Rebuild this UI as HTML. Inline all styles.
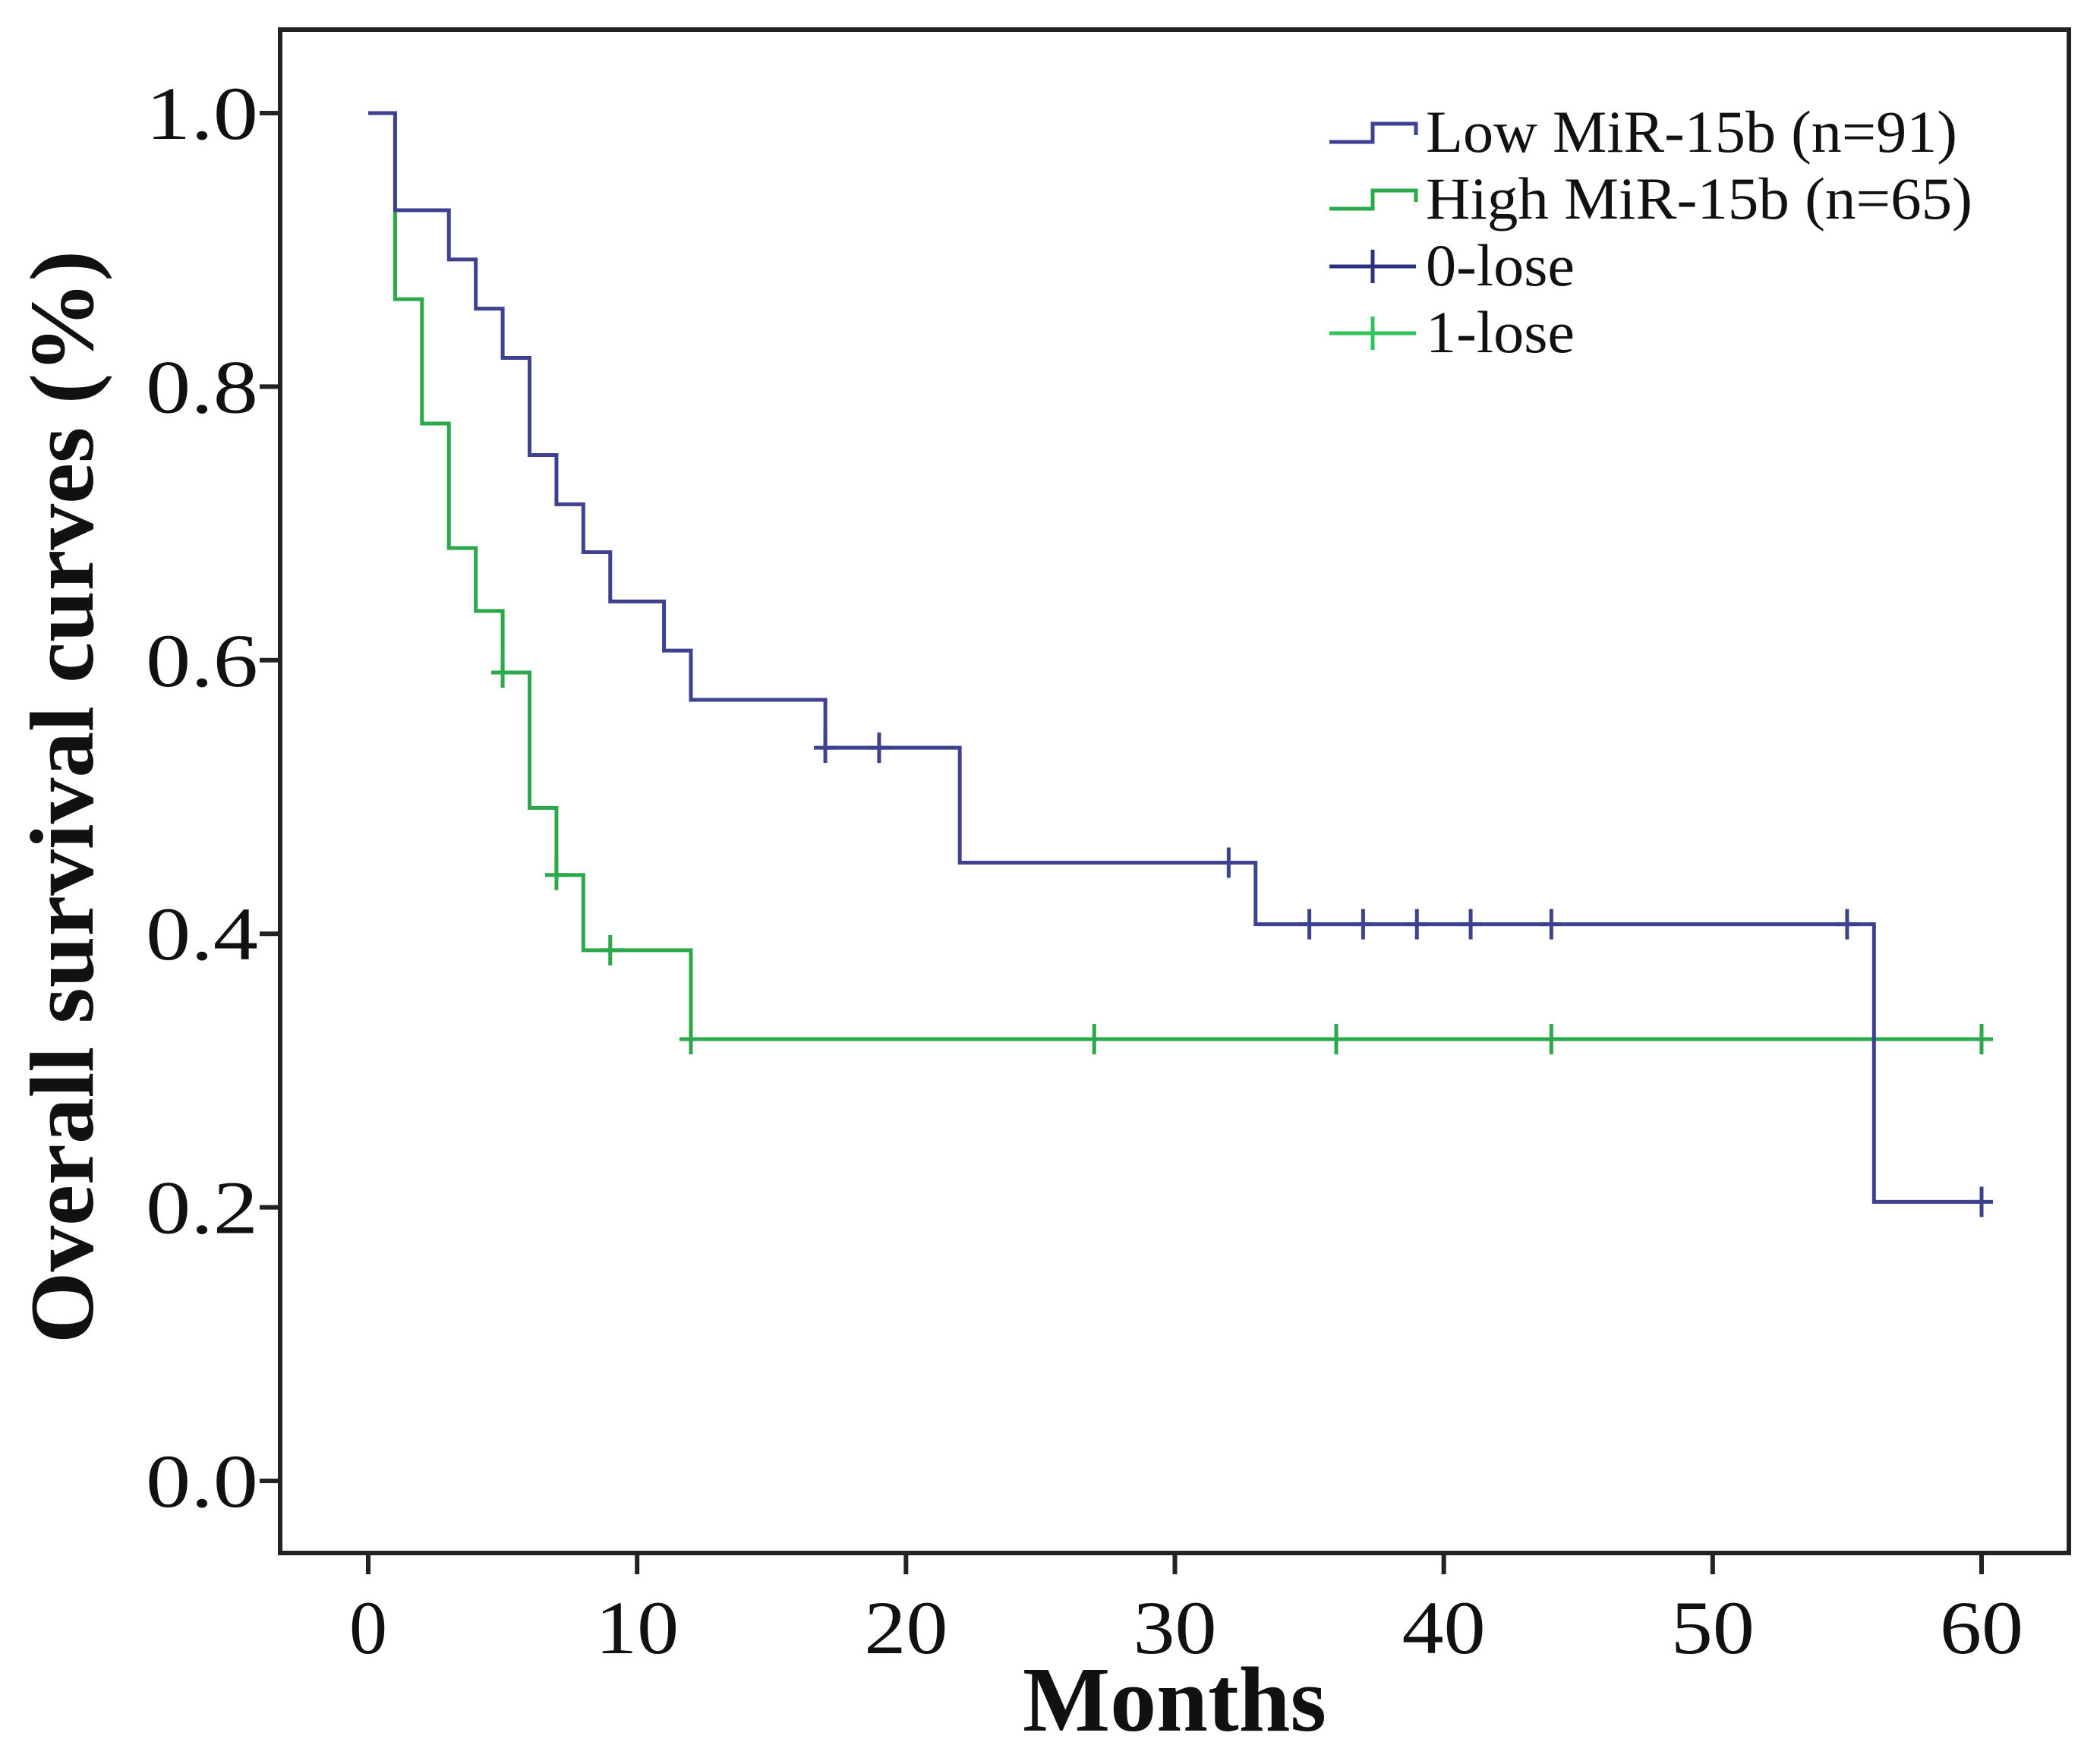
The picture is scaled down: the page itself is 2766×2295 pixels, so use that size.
<!DOCTYPE html>
<html><head><meta charset="utf-8">
<style>
html,body{margin:0;padding:0;background:#fff;}
svg{display:block;}
text{font-family:"Liberation Serif",serif;fill:#111;}
</style></head>
<body>
<svg id="chart" width="2766" height="2295" viewBox="0 0 2766 2295" xmlns="http://www.w3.org/2000/svg">
<rect x="369" y="39" width="2356" height="2007" fill="#fff" stroke="#222" stroke-width="6"/>
<g id="axes"></g>
<g id="series"></g>
<text transform="translate(122,1050) rotate(-90)" text-anchor="middle" font-size="120" font-weight="bold" textLength="1440" lengthAdjust="spacingAndGlyphs">Overall survival curves (%)</text>
<text x="1547" y="2280" text-anchor="middle" font-size="122" font-weight="bold" textLength="400" lengthAdjust="spacingAndGlyphs">Months</text>
<g>
<path d="M1751 187 H1808 V163 H1865 V178" fill="none" stroke="#3d418f" stroke-width="5"/>
<text x="1878" y="200" font-size="78" textLength="700" lengthAdjust="spacingAndGlyphs">Low MiR-15b (n=91)</text>
<path d="M1751 275 H1808 V251 H1865 V266" fill="none" stroke="#2aa84a" stroke-width="5"/>
<text x="1878" y="288" font-size="78" textLength="720" lengthAdjust="spacingAndGlyphs">High MiR-15b (n=65)</text>
<path d="M1751 351 H1865 M1808 329 V373" stroke="#2c3080" stroke-width="5"/>
<text x="1878" y="376" font-size="78" textLength="196" lengthAdjust="spacingAndGlyphs">0-lose</text>
<path d="M1751 439 H1865 M1808 417 V461" stroke="#2ec45a" stroke-width="5"/>
<text x="1878" y="464" font-size="78" textLength="196" lengthAdjust="spacingAndGlyphs">1-lose</text>
</g>
</svg>
<script>
const xTicks = [0,10,20,30,40,50,60];
const yTicks = [0.0,0.2,0.4,0.6,0.8,1.0];
const lowTimes = [0,1,3,4,5,6,7,8,9,11,12,17,22,33,56,60];
const lowSurv = [1.0,0.929,0.893,0.857,0.821,0.75,0.714,0.679,0.643,0.607,0.571,0.536,0.452,0.407,0.204,0.204];
const lowCensor = [17,19,32,35,37,39,41,44,55,60];
const highTimes = [0,1,2,3,4,5,6,7,8,12,60];
const highSurv = [1.0,0.864,0.773,0.682,0.636,0.591,0.492,0.443,0.388,0.323,0.323];
const highCensor = [5,7,9,12,27,36,44,60];

const NS="http://www.w3.org/2000/svg";
function xs(v){return 485 + v*(2610-485)/60;}
function ys(v){return 1951 - v*(1951-149);}
const axes=document.getElementById('axes');
const series=document.getElementById('series');
function mk(tag,attrs,parent){const e=document.createElementNS(NS,tag);for(const k in attrs)e.setAttribute(k,attrs[k]);parent.appendChild(e);return e;}

yTicks.forEach(v=>{
  const t=mk('line',{x1:342,x2:369,y1:ys(v),y2:ys(v),stroke:'#222','stroke-width':6},axes);
  
  
  const l=mk('text',{x:340,y:ys(v)+34,'text-anchor':'end','font-size':100,textLength:148,lengthAdjust:'spacingAndGlyphs'},axes);
  
  
  l.textContent=v.toFixed(1);
});
xTicks.forEach(v=>{
  const t=mk('line',{x1:xs(v),x2:xs(v),y1:2046,y2:2074,stroke:'#222','stroke-width':6},axes);
  
  
  const s=String(v);
  const attrs={x:xs(v),y:2178,'text-anchor':'middle','font-size':100};
  if(s.length>1){attrs.textLength=110;attrs.lengthAdjust='spacingAndGlyphs';}
  const l=mk('text',attrs,axes);
  
  
  l.textContent=s;
});

function stepPath(times,surv){
  let d='M'+xs(times[0])+' '+ys(surv[0]);
  for(let i=1;i<times.length;i++){
    d+=' H'+xs(times[i])+' V'+ys(surv[i]);
  }
  return d;
}
function survAt(times,surv,t){
  let s=surv[0];
  for(let i=0;i<times.length;i++){ if(times[i]<=t) s=surv[i]; }
  return s;
}
function drawSeries(name,times,surv,cens,color){
  const p=mk('path',{d:stepPath(times,surv),fill:'none',stroke:color,'stroke-width':5},series);
  
  
  cens.forEach(c=>{
    const y=ys(survAt(times,surv,c));
    const m=mk('path',{d:'M'+(xs(c)-15)+' '+y+' H'+(xs(c)+15)+' M'+xs(c)+' '+(y-20)+' V'+(y+20),stroke:color,'stroke-width':5},series);
    
    
  });
}
drawSeries('high-mir15b',highTimes,highSurv,highCensor,'#2aa84a');
drawSeries('low-mir15b',lowTimes,lowSurv,lowCensor,'#3d418f');
</script>
</body></html>
